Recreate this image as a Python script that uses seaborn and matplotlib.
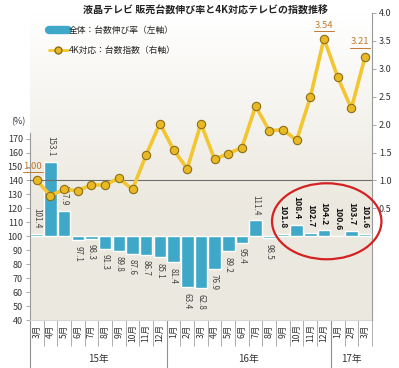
import numpy as np
import pandas as pd
import matplotlib.pyplot as plt
from matplotlib.lines import Line2D
from matplotlib.patches import Ellipse
from matplotlib.ticker import FuncFormatter
import seaborn as sns

# ===============================
# DATA
# ===============================
months = ["3月", "4月", "5月", "6月", "7月", "8月", "9月", "10月", "11月", "12月",
          "1月", "2月", "3月", "4月", "5月", "6月", "7月", "8月", "9月", "10月", "11月", "12月",
          "1月", "2月", "3月"]
years = ["15年", "16年", "17年"]
year_len = [10, 12, 3]

growth = [101.4, 153.1, 117.9, 97.1, 98.3, 91.3, 89.8, 87.6, 86.7, 85.1,
          81.4, 63.4, 62.8, 76.9, 89.2, 95.4, 111.4, 98.5, 101.8, 108.4, 102.7, 104.2,
          100.6, 103.7, 101.6]
index_4k = [1.00, 0.73, 0.84, 0.82, 0.92, 0.92, 1.04, 0.84, 1.46, 2.02,
            1.55, 1.21, 2.02, 1.38, 1.48, 1.59, 2.33, 1.89, 1.91, 1.72, 2.49, 3.54,
            2.85, 2.29, 3.21]
highlight_from = 18  # labels inside the red ellipse

df = pd.DataFrame({"idx": range(len(months)), "growth": growth, "index_4k": index_4k})
df["dev"] = df["growth"] - 100

# ===============================
# STYLE
# ===============================
sns.set_style("white")
plt.rcParams["font.family"] = ["Noto Sans CJK JP", "DejaVu Sans"]

BAR = "#3fa8c8"
LINE = "#f3c631"
LBL = "#c07a2c"

fig = plt.figure(figsize=(3.99, 3.68), dpi=100)
ax = fig.add_axes([0.075, 0.130, 0.857, 0.835])

# soft beige gradient background
grad = np.linspace(0, 1, 256).reshape(-1, 1)
bg = np.ones((256, 1, 3))
top_c = np.array([1.0, 1.0, 1.0])
bot_c = np.array([0.925, 0.912, 0.875])
w = np.clip(grad * 1.6, 0, 1)
bg[:, 0, :] = top_c * (1 - w) + bot_c * w
ax.imshow(bg, extent=[0, 1, 0, 1], transform=ax.transAxes, aspect="auto", zorder=0)

# ===============================
# BARS (left axis, baseline 100)
# ===============================
sns.barplot(data=df, x="idx", y="dev", color=BAR, saturation=1, width=0.92, ax=ax, zorder=2)
ax.set_xlim(-0.5, len(months) - 0.5)
ax.set_ylim(-60, 160)
ax.set_yticks(range(-60, 71, 10))
ax.yaxis.set_major_formatter(FuncFormatter(lambda v, p: f"{v + 100:.0f}"))
ax.set_xlabel("")
ax.set_ylabel("")

for i, v in enumerate(growth):
    hl = i >= highlight_from
    up = v >= 100
    ax.annotate(f"{v:.1f}", (i, v - 100), xytext=(0, 4 if up else -4),
                textcoords="offset points", ha="center", va="bottom" if up else "top",
                rotation=-90, fontsize=6.2 if hl else 5.8,
                fontweight="bold" if hl else "normal",
                color="#111111" if hl else "#444444", zorder=5)

# axis cosmetics
for s in ["top", "right"]:
    ax.spines[s].set_visible(False)
ax.spines["left"].set_bounds(-60, 74)
ax.spines["left"].set_color("#9a9a9a")
ax.spines["bottom"].set_color("#d8d8d8")
ax.tick_params(axis="y", labelsize=6.5, colors="#333333", length=3, width=0.6,
               color="#9a9a9a", pad=2, left=True)
ax.set_xticks(range(len(months)))
ax.set_xticklabels(months, rotation=90, fontsize=6.2, color="#333333")
ax.set_xticks(np.arange(-0.5, len(months), 1), minor=True)
ax.tick_params(axis="x", which="major", length=0, pad=3)
ax.tick_params(axis="x", which="minor", length=19, width=0.6, color="#a0a0a0", bottom=True)

# year separators and labels
start = 0
for yname, n in zip(years, year_len):
    ax.text(start + n / 2 - 0.5, -0.125, yname, transform=ax.get_xaxis_transform(),
            ha="center", va="center", fontsize=7, color="#333333")
    start += n
for b in [-0.5, 9.5, 21.5]:
    ax.plot([b, b], [0, -0.16], transform=ax.get_xaxis_transform(), color="#909090",
            lw=0.8, clip_on=False)

fig.text(0.045, 0.668, "(%)", fontsize=6.5, color="#333333", ha="center", va="center")

# ===============================
# 4K INDEX LINE (right axis)
# ===============================
ax2 = ax.twinx()
ax2.set_zorder(ax.get_zorder() + 1)
ax2.patch.set_visible(False)
ax2.axhline(1.0, color="#6f6f6f", lw=0.8, zorder=1)
sns.lineplot(data=df, x="idx", y="index_4k", ax=ax2, color=LINE, lw=2.6, marker="o",
             markersize=6, markerfacecolor="#e9b924", markeredgecolor="#8c6e18",
             markeredgewidth=0.8, legend=False, zorder=3)
ax2.set_ylim(-1.5, 4.0)
ax2.set_xlim(-0.5, len(months) - 0.5)
ax2.set_yticks(np.arange(0.5, 4.01, 0.5))
ax2.yaxis.set_major_formatter(FuncFormatter(lambda v, p: f"{v:.1f}"))
ax2.set_ylabel("")
ax2.set_xlabel("")
for s in ["top", "left", "bottom"]:
    ax2.spines[s].set_visible(False)
ax2.spines["right"].set_color("#9a9a9a")
ax2.tick_params(axis="y", labelsize=6.5, colors="#333333", length=3, width=0.6,
                color="#9a9a9a", pad=2, right=True)

# underlined value callouts
for (x, y, t) in [(-0.3, 1.25, "1.00"), (21.0, 3.77, "3.54"), (23.65, 3.48, "3.21")]:
    ax2.text(x, y, t, ha="center", va="center", fontsize=6.8, color=LBL, clip_on=False)
    ax2.plot([x - 0.72, x + 0.72], [y - 0.1, y - 0.1], color=LBL, lw=0.7, clip_on=False)

# red ellipse around recent months
ax2.add_patch(Ellipse((21.2, 0.27), 8.0, 1.36, fill=False, edgecolor="#d42222",
                      lw=1.6, clip_on=False, zorder=6))

# ===============================
# TITLE + LEGEND
# ===============================
fig.text(0.515, 0.972, "液晶テレビ 販売台数伸び率と4K対応テレビの指数推移",
         fontsize=7.2, fontweight="bold", ha="center", va="center", color="#222222")
handles = [Line2D([], [], color=BAR, lw=6),
           Line2D([], [], color=LINE, lw=2, marker="o", markersize=5,
                  markerfacecolor="#e9b924", markeredgecolor="#8c6e18")]
fig.legend(handles, ["全体：台数伸び率（左軸）", "4K対応：台数指数（右軸）"],
           loc="upper left", bbox_to_anchor=(0.122, 0.928), frameon=False,
           fontsize=6.3, handlelength=2.2, handletextpad=0.1, labelspacing=1.2,
           borderaxespad=0, borderpad=0)

fig.savefig("out.png", dpi=100)
